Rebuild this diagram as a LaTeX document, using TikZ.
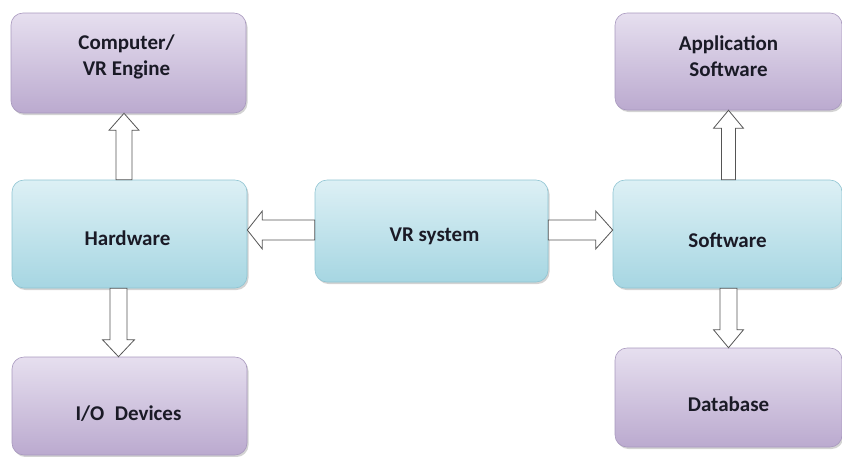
\documentclass[tikz,border=0pt]{standalone}
\usepackage{fontspec}
\setmainfont{Carlito}
\usetikzlibrary{shadows,calc}
\definecolor{plight}{HTML}{E6DFEF}
\definecolor{pdark}{HTML}{BBAACF}
\definecolor{pedge}{HTML}{A898BE}
\definecolor{blight}{HTML}{DDF0F5}
\definecolor{bdark}{HTML}{A6D6E2}
\definecolor{bedge}{HTML}{8EC4D2}
\definecolor{txt}{HTML}{1A1A26}
\definecolor{arr}{HTML}{555555}
\tikzset{
  box/.style={rounded corners=12pt, draw, line width=0.6pt, inner sep=0pt,
    drop shadow={shadow xshift=1.5pt, shadow yshift=-2pt, opacity=0.35, fill=gray}},
  pbox/.style={box, draw=pedge, top color=plight, bottom color=pdark},
  bbox/.style={box, draw=bedge, top color=blight, bottom color=bdark},
  lbl/.style={align=center, inner sep=0pt, font=\fontsize{21}{26}\selectfont\bfseries, text=txt},
  barrow/.style={draw=arr, fill=white, line width=0.8pt, line join=miter}
}
\begin{document}
\begin{tikzpicture}[x=1pt,y=-1pt]
\useasboundingbox (0,0) rectangle (842,456);
\node[pbox, minimum width=235pt, minimum height=100pt] (comp) at (128.5,63) {};
\node[bbox, minimum width=235pt, minimum height=108pt] (hw) at (129.5,234) {};
\node[bbox, minimum width=233pt, minimum height=102pt] (vr) at (431.5,231) {};
\node[bbox, minimum width=229pt, minimum height=108pt] (sw) at (727.5,234) {};
\node[pbox, minimum width=227pt, minimum height=97pt] (app) at (728.5,61.5) {};
\node[pbox, minimum width=227pt, minimum height=99pt] (db) at (728.5,397.5) {};
\node[pbox, minimum width=235pt, minimum height=98pt] (io) at (129.5,406) {};
% labels
\node[lbl] (compt) at ($(comp.center)+(-2,-6)$) {Computer/\\VR Engine};
\node[lbl] (hwt) at ($(hw.center)+(-2,4)$) {Hardware};
\node[lbl] (vrt) at ($(vr.center)+(3,5)$) {VR system};
\node[lbl] (swt) at ($(sw.center)+(0,6)$) {Software};
\node[lbl] (appt) at ($(app.center)+(0,-5)$) {Application\\Software};
\node[lbl] (dbt) at ($(db.center)+(0,7)$) {Database};
\node[lbl] (iot) at ($(io.center)+(-1,8)$) {I/O\enspace Devices};
% block arrows
% hardware -> computer (up)
\draw[barrow] let \p1=($(hw.north)+(-5.5,0)$), \p2=(comp.south) in
  (\x1-8pt,\y1) -- (\x1-8pt,\y2-17pt) -- (\x1-15pt,\y2-17pt) -- (\x1,\y2)
  -- (\x1+15pt,\y2-17pt) -- (\x1+8pt,\y2-17pt) -- (\x1+8pt,\y1) -- cycle;
% hardware -> io (down)
\draw[barrow] let \p1=($(hw.south)+(-11,0)$), \p2=(io.north) in
  (\x1-8.5pt,\y1) -- (\x1-8.5pt,\y2+17pt) -- (\x1-16pt,\y2+17pt) -- (\x1,\y2)
  -- (\x1+16pt,\y2+17pt) -- (\x1+8.5pt,\y2+17pt) -- (\x1+8.5pt,\y1) -- cycle;
% vr -> hardware (left)
\draw[barrow] let \p1=($(vr.west)+(0,-1)$), \p2=(hw.east) in
  (\x1,\y1+10pt) -- (\x2+15pt,\y1+10pt) -- (\x2+15pt,\y1+19pt) -- (\x2,\y1)
  -- (\x2+15pt,\y1-19pt) -- (\x2+15pt,\y1-10pt) -- (\x1,\y1-10pt) -- cycle;
% vr -> software (right)
\draw[barrow] let \p1=($(vr.east)+(0,-1)$), \p2=(sw.west) in
  (\x1,\y1+10pt) -- (\x2-17pt,\y1+10pt) -- (\x2-17pt,\y1+19pt) -- (\x2,\y1)
  -- (\x2-17pt,\y1-19pt) -- (\x2-17pt,\y1-10pt) -- (\x1,\y1-10pt) -- cycle;
% software -> application (up)
\draw[barrow] let \p1=($(sw.north)+(1,0)$), \p2=(app.south) in
  (\x1-7pt,\y1) -- (\x1-7pt,\y2-18pt) -- (\x1-15pt,\y2-18pt) -- (\x1,\y2)
  -- (\x1+15pt,\y2-18pt) -- (\x1+7pt,\y2-18pt) -- (\x1+7pt,\y1) -- cycle;
% software -> database (down)
\draw[barrow] let \p1=($(sw.south)+(1,0)$), \p2=(db.north) in
  (\x1-8.5pt,\y1) -- (\x1-8.5pt,\y2+18pt) -- (\x1-15pt,\y2+18pt) -- (\x1,\y2)
  -- (\x1+15pt,\y2+18pt) -- (\x1+8.5pt,\y2+18pt) -- (\x1+8.5pt,\y1) -- cycle;
\end{tikzpicture}
\end{document}
